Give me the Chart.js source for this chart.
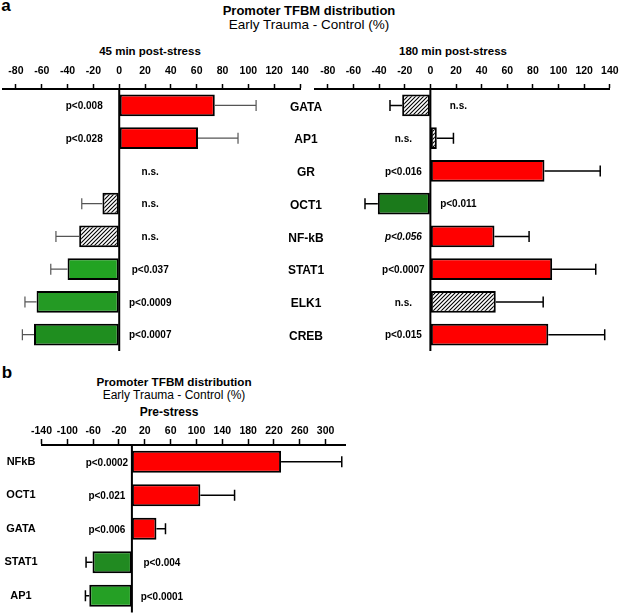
<!DOCTYPE html>
<html>
<head>
<meta charset="utf-8">
<script src="https://cdn.jsdelivr.net/npm/chart.js@4.4.1/dist/chart.umd.min.js"></script>
<style>
  body { margin:0; background:#fff; width:625px; height:615px; position:relative; overflow:hidden; font-family:"Liberation Sans", Arial, sans-serif; }
  canvas { position:absolute; }
  .t { position:absolute; transform:translate(-50%,-50%); white-space:nowrap; line-height:1; color:#000; }
</style>
</head>
<body>
<div class="t" style="left:6px;top:5px;font-weight:bold;font-size:17px">a</div>
<div class="t" style="left:309px;top:10px;font-weight:bold;font-size:13px">Promoter TFBM distribution</div>
<div class="t" style="left:309px;top:25px;font-size:13.5px">Early Trauma - Control (%)</div>
<div class="t" style="left:150px;top:52px;font-weight:bold;font-size:11.5px">45 min post-stress</div>
<div class="t" style="left:453px;top:52px;font-weight:bold;font-size:11.5px">180 min post-stress</div>

<div class="t" style="left:7px;top:372px;font-weight:bold;font-size:17px">b</div>
<div class="t" style="left:174px;top:382px;font-weight:bold;font-size:11.7px">Promoter TFBM distribution</div>
<div class="t" style="left:174px;top:395px;font-size:12px">Early Trauma - Control (%)</div>
<div class="t" style="left:169px;top:412px;font-weight:bold;font-size:12px">Pre-stress</div>

<canvas id="c45" width="330" height="360" style="left:0;top:0"></canvas>
<canvas id="c180" width="325" height="360" style="left:300px;top:0"></canvas>
<canvas id="cPre" width="625" height="255" style="left:0;top:360px"></canvas>

<script>
// panel a
const genes = ['GATA', 'AP1', 'GR', 'OCT1', 'NF-kB', 'STAT1', 'ELK1', 'CREB'];
const ticksA = [-80, -60, -40, -20, 0, 20, 40, 60, 80, 100, 120, 140];

const post45 = [74, 61, null, -13, -31, -40, -64, -66];
const sd45   = [32, 31, null, 16, 18, 13, 9, 9];
const p45    = ['p<0.008', 'p<0.028', 'n.s.', 'n.s.', 'n.s.', 'p<0.037', 'p<0.0009', 'p<0.0007'];

const post180 = [-22, 5, 89, -41, 50, 95, 51, 92];
const sd180   = [9.5, 13, 43.5, 10, 27, 34, 37, 44];
const p180    = ['n.s.', 'n.s.', 'p<0.016', 'p<0.011', 'p<0.056', 'p<0.0007', 'n.s.', 'p<0.015'];

// panel b
const genesPre = ['NFkB', 'OCT1', 'GATA', 'STAT1', 'AP1'];
const ticksPre = [-140, -100, -60, -20, 20, 60, 100, 140, 180, 220, 260, 300];
const pre   = [231, 106, 38, -61, -66];
const sdPre = [94, 53, 14, 10, 6];
const pPre  = ['p<0.0002', 'p<0.021', 'p<0.006', 'p<0.004', 'p<0.0001'];

const italicP = ['p<0.056'];

const FONT = '"Liberation Sans", Arial, sans-serif';
const RED = '#ff0000';

function hatch() {
  const s = 4;
  const c = document.createElement('canvas');
  c.width = c.height = s;
  const g = c.getContext('2d');
  g.fillStyle = '#fff';
  g.fillRect(0, 0, s, s);
  g.strokeStyle = '#000';
  g.lineWidth = 1.1;
  g.beginPath();
  g.moveTo(0, s); g.lineTo(s, 0);
  g.moveTo(-1, 1); g.lineTo(1, -1);
  g.moveTo(s - 1, s + 1); g.lineTo(s + 1, s - 1);
  g.stroke();
  return g.createPattern(c, 'repeat');
}
const H = hatch();

const colors45  = [RED, RED, RED, H, H, '#22a322', '#249a24', '#1f8e1f'];
const colors180 = [H, H, RED, '#1b7a1b', RED, RED, H, RED];
const colorsPre = [RED, RED, RED, '#218a21', '#25a025'];

// error bars, zero line, p values, gene names
const annot = {
  id: 'annot',
  afterDatasetsDraw(chart, args, o) {
    const {ctx, chartArea: a, scales: {x, y}} = chart;
    const vals = chart.data.datasets[0].data;
    const x0 = x.getPixelForValue(0);
    ctx.save();

    ctx.strokeStyle = o.errColor;
    ctx.lineWidth = o.errWidth;
    vals.forEach((v, i) => {
      if (v == null || !o.sd[i]) return;
      const yc = y.getPixelForValue(i);
      const xb = x.getPixelForValue(v);
      const xe = x.getPixelForValue(v + Math.sign(v) * o.sd[i]);
      ctx.beginPath();
      ctx.moveTo(xb, yc); ctx.lineTo(xe, yc);
      ctx.moveTo(xe, yc - 5.5); ctx.lineTo(xe, yc + 5.5);
      ctx.stroke();
    });

    ctx.strokeStyle = '#000';
    ctx.lineWidth = 2;
    ctx.beginPath();
    ctx.moveTo(x0, a.top); ctx.lineTo(x0, a.bottom);
    ctx.stroke();

    ctx.fillStyle = '#000';
    ctx.textAlign = 'center';
    ctx.textBaseline = 'middle';
    o.pvals.forEach((t, i) => {
      const v = vals[i];
      const left = v != null && v > 0;
      ctx.font = (italicP.includes(t) ? 'italic ' : '') + 'bold 10px ' + FONT;
      ctx.fillText(t, x0 + (left ? -o.offL : o.offR), y.getPixelForValue(i) + 1);
    });

    if (o.catX != null) {
      ctx.font = o.catFont;
      chart.data.labels.forEach((t, i) => ctx.fillText(t, o.catX, y.getPixelForValue(i) + o.catDy));
    }
    ctx.restore();
  }
};

function makeChart(id, labels, values, sd, pvals, colors, opt) {
  return new Chart(document.getElementById(id), {
    type: 'bar',
    data: {
      labels: labels,
      datasets: [{
        data: values,
        backgroundColor: colors,
        borderColor: '#000',
        borderWidth: 2,
        borderSkipped: false,
        categoryPercentage: 1,
        barPercentage: opt.barPct
      }]
    },
    options: {
      indexAxis: 'y',
      responsive: false,
      animation: false,
      layout: { padding: opt.pad },
      plugins: {
        legend: { display: false },
        tooltip: { enabled: false },
        annot: {
          sd: sd, pvals: pvals,
          offL: opt.offL, offR: opt.offR,
          errColor: opt.errColor, errWidth: opt.errWidth,
          catX: opt.catX, catFont: opt.catFont, catDy: opt.catDy
        }
      },
      scales: {
        x: {
          position: 'top',
          min: opt.min,
          max: opt.max,
          afterBuildTicks: s => { s.ticks = opt.ticks.map(v => ({ value: v })); },
          afterFit: s => { s.height = opt.axisH; },
          ticks: {
            color: '#000',
            padding: opt.tickPad,
            autoSkip: false,
            maxRotation: 0,
            font: { family: FONT, size: 10.5, weight: 'bold' }
          },
          grid: {
            drawOnChartArea: false,
            drawTicks: true,
            tickLength: opt.tickLen,
            tickColor: '#000',
            tickWidth: 1.5
          },
          border: { display: true, color: '#000', width: 2 }
        },
        y: { display: false }
      }
    },
    plugins: [annot]
  });
}

makeChart('c45', genes, post45, sd45, p45, colors45, {
  min: -90, max: 140, ticks: ticksA,
  pad: { left: 3, right: 30, top: 65, bottom: 9 },
  axisH: 24, tickPad: 6.4, tickLen: 5, barPct: 0.67,
  offL: 35, offR: 31, errColor: '#555', errWidth: 1.2,
  catX: 306, catFont: 'bold 12px ' + FONT, catDy: 2
});

makeChart('c180', genes, post180, sd180, p180, colors180, {
  min: -90, max: 140, ticks: ticksA,
  pad: { left: 15, right: 10, top: 65, bottom: 9 },
  axisH: 24, tickPad: 6.4, tickLen: 5, barPct: 0.67,
  offL: 27, offR: 28, errColor: '#000', errWidth: 1.5,
  catX: null
});

makeChart('cPre', genesPre, pre, sdPre, pPre, colorsPre, {
  min: -140, max: 330, ticks: ticksPre,
  pad: { left: 41.5, right: 280, top: 63, bottom: 2.5 },
  axisH: 22, tickPad: 2, tickLen: 6, barPct: 0.66,
  offL: 25, offR: 30, errColor: '#000', errWidth: 1.5,
  catX: 21, catFont: 'bold 11px ' + FONT, catDy: 0
});
</script>
</body>
</html>
